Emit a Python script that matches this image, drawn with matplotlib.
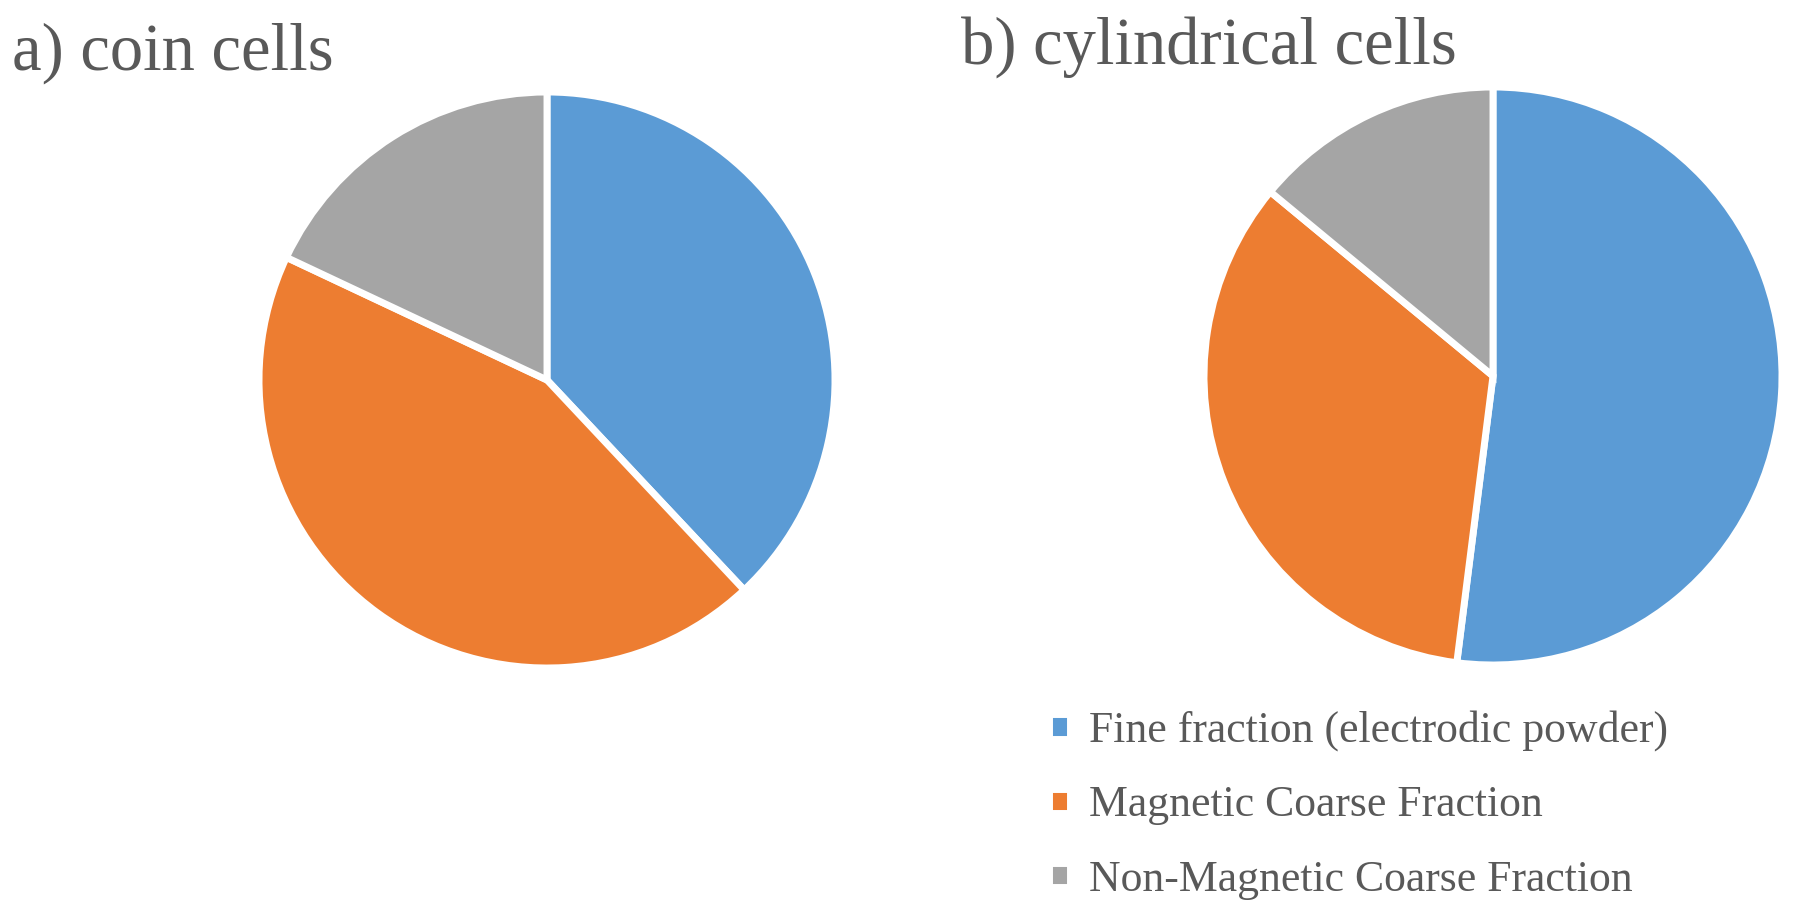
import matplotlib
matplotlib.use("Agg")
import matplotlib.pyplot as plt

categories = ["Fine fraction (electrodic powder)", "Magnetic Coarse Fraction",
              "Non-Magnetic Coarse Fraction"]
coin_values = [38.0, 44.0, 18.0]
cyl_values = [52.0, 34.0, 14.0]
titles = ["a) coin cells", "b) cylindrical cells"]
colors = ["#5B9BD5", "#ED7D31", "#A5A5A5"]

W, H = 1800, 913
fig = plt.figure(figsize=(W / 100, H / 100), dpi=100)
plt.rcParams['font.family'] = ['Liberation Serif', 'DejaVu Serif']
txtc = "#595959"

def add_pie(cx, cy, r, vals):
    ax = fig.add_axes([(cx - r) / W, (H - cy - r) / H, 2 * r / W, 2 * r / H])
    wedges, _ = ax.pie(vals, colors=colors, startangle=90, counterclock=False,
                       wedgeprops=dict(edgecolor="white", linewidth=5))
    ax.set_xlim(-1.0, 1.0)
    ax.set_ylim(-1.0, 1.0)
    ax.set_aspect("equal")
    ax.axis("off")
    return ax, wedges

ax1, w1 = add_pie(547, 380, 288, coin_values)
ax2, w2 = add_pie(1493, 376, 289, cyl_values)

fig.text(12 / W, 1 - 53 / H, titles[0], fontsize=48, color=txtc, va="center", ha="left")
fig.text(961 / W, 1 - 47 / H, titles[1], fontsize=48, color=txtc, va="center", ha="left")

leg = fig.legend(w2, categories, loc="upper left", bbox_to_anchor=(1010 / W, 1 - 671 / H),
                 frameon=False, fontsize=31.5, handlelength=0.48, handleheight=0.48,
                 handletextpad=0.42, labelspacing=0.78, labelcolor=txtc)

fig.savefig("out.png", dpi=100, facecolor="white")
